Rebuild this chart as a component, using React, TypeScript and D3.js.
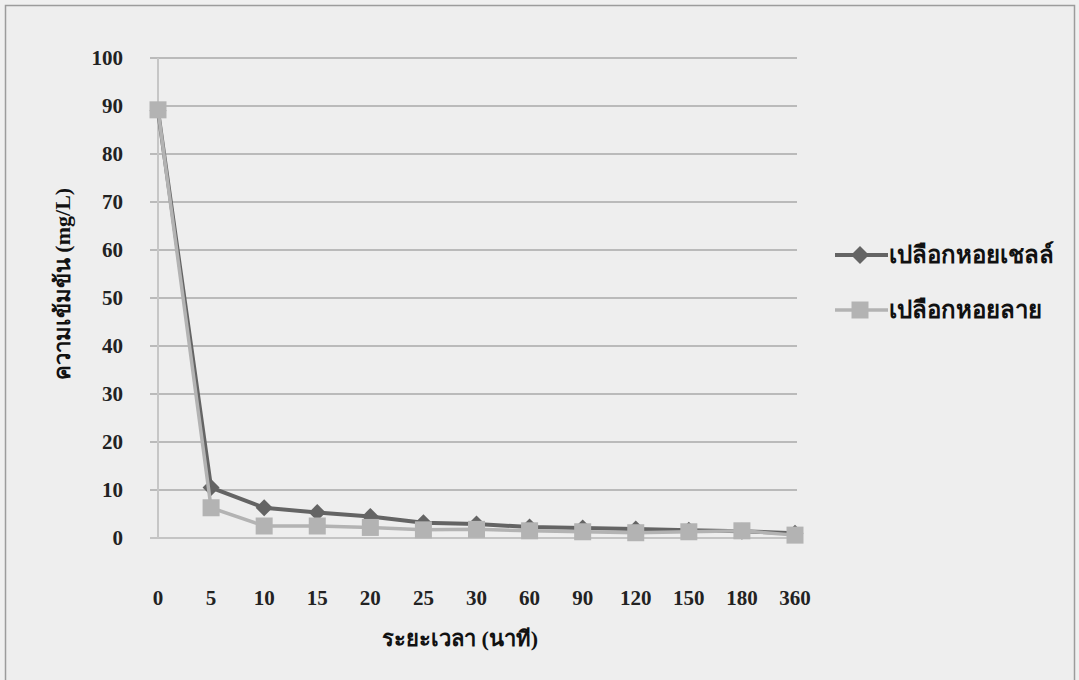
import React from "react";
import * as d3 from "d3";

const categories: string[] = ["0", "5", "10", "15", "20", "25", "30", "60", "90", "120", "150", "180", "360"];
const scallopShell: number[] = [89, 10.5, 6.3, 5.3, 4.5, 3.2, 2.9, 2.3, 2.1, 1.9, 1.6, 1.4, 1.0];
const surfClamShell: number[] = [89.2, 6.3, 2.5, 2.5, 2.2, 1.7, 1.8, 1.5, 1.3, 1.1, 1.3, 1.5, 0.6];
const yTicks: number[] = [0, 10, 20, 30, 40, 50, 60, 70, 80, 90, 100];
const seriesNames: string[] = ["เปลือกหอยเชลล์", "เปลือกหอยลาย"];
const yTitle = "ความเข้มข้น (mg/L)";
const xTitle = "ระยะเวลา (นาที)";

const W = 1079;
const H = 680;
const FONT = "'Liberation Serif', 'Times New Roman', serif";
const DARK = "#646464";
const LIGHT = "#b3b3b3";

export default function App() {
  const x = d3.scalePoint<string>().domain(categories).range([158, 795]);
  const y = d3.scaleLinear().domain([0, 100]).range([538, 58]);

  const line = d3
    .line<number>()
    .x((_, i) => x(categories[i]) as number)
    .y((d) => y(d));

  const diamond = (cx: number, cy: number, r: number) =>
    `M${cx},${cy - r}L${cx + r},${cy}L${cx},${cy + r}L${cx - r},${cy}Z`;

  return (
    <svg
      width={W}
      height={H}
      style={{ position: "fixed", left: 0, top: 0 }}
      fontFamily={FONT}
    >
      <rect x={0} y={0} width={W} height={H} fill="#f0f0f0" />
      <rect x={5.5} y={5.5} width={1069} height={690} fill="#eeeeee" stroke="#9c9c9c" strokeWidth={1.5} />

      {/* gridlines */}
      {yTicks.map((t) => (
        <line
          key={"g" + t}
          x1={150}
          x2={797}
          y1={y(t)}
          y2={y(t)}
          stroke={t === 0 ? "#c4c4c4" : "#a9a9a9"}
          strokeWidth={t === 0 ? 2 : 1.5}
        />
      ))}
      <line x1={158} x2={158} y1={y(100)} y2={y(0)} stroke="#c6c6c6" strokeWidth={2} />

      {/* y tick labels */}
      {yTicks.map((t) => (
        <text
          key={"yl" + t}
          x={123}
          y={y(t)}
          textAnchor="end"
          dominantBaseline="central"
          fontSize={21}
          fontWeight="bold"
          fill="#222"
        >
          {t}
        </text>
      ))}

      {/* x tick labels */}
      {categories.map((c) => (
        <text
          key={"xl" + c}
          x={x(c) as number}
          y={598}
          textAnchor="middle"
          dominantBaseline="central"
          fontSize={21}
          fontWeight="bold"
          fill="#222"
        >
          {c}
        </text>
      ))}

      {/* axis titles */}
      <text x={460} y={638} textAnchor="middle" dominantBaseline="central" fontSize={22} fontWeight="bold" fill="#111">
        {xTitle}
      </text>
      <text
        transform="translate(62,284) rotate(-90)"
        textAnchor="middle"
        dominantBaseline="central"
        fontSize={22}
        fontWeight="bold"
        fill="#111"
      >
        {yTitle}
      </text>

      {/* series 1 */}
      <path d={line(scallopShell) || ""} fill="none" stroke={DARK} strokeWidth={4} strokeLinejoin="round" />
      {scallopShell.map((v, i) => (
        <path key={"d" + i} d={diamond(x(categories[i]) as number, y(v), 8.5)} fill={DARK} />
      ))}

      {/* series 2 */}
      <path d={line(surfClamShell) || ""} fill="none" stroke={LIGHT} strokeWidth={3.5} strokeLinejoin="round" />
      {surfClamShell.map((v, i) => (
        <rect
          key={"s" + i}
          x={(x(categories[i]) as number) - 8.5}
          y={y(v) - 8.5}
          width={17}
          height={17}
          fill={LIGHT}
        />
      ))}

      {/* legend */}
      <line x1={835} x2={888} y1={255} y2={255} stroke={DARK} strokeWidth={4} />
      <path d={diamond(860, 255, 9)} fill={DARK} />
      <text x={889} y={255} dominantBaseline="central" fontSize={24} fontWeight="bold" fill="#111">
        {seriesNames[0]}
      </text>
      <line x1={835} x2={888} y1={310} y2={310} stroke={LIGHT} strokeWidth={3.5} />
      <rect x={851.5} y={301.5} width={17} height={17} fill={LIGHT} />
      <text x={889} y={310} dominantBaseline="central" fontSize={24} fontWeight="bold" fill="#111">
        {seriesNames[1]}
      </text>
    </svg>
  );
}
